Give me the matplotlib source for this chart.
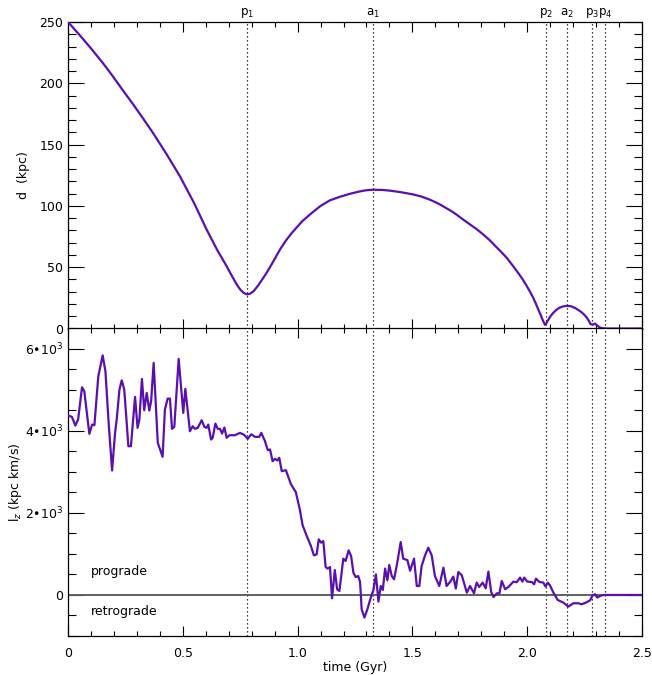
import numpy as np
import matplotlib
matplotlib.use("Agg")
import matplotlib.pyplot as plt

# distance to host (top panel)
t_d = [0.0, 0.05, 0.10, 0.15, 0.197, 0.24, 0.285, 0.33, 0.371, 0.43, 0.488,
       0.55, 0.604, 0.65, 0.691, 0.715, 0.735, 0.750, 0.765, 0.781, 0.795,
       0.810, 0.830, 0.865, 0.895, 0.923, 0.950, 0.975, 1.02, 1.06, 1.10,
       1.14, 1.185, 1.23, 1.27, 1.30, 1.33, 1.37, 1.40, 1.446, 1.50, 1.54,
       1.577, 1.61, 1.64, 1.67, 1.693, 1.72, 1.75, 1.78, 1.809, 1.835, 1.86,
       1.885, 1.911, 1.935, 1.96, 1.98, 1.998, 2.012, 2.025, 2.037, 2.048,
       2.058, 2.066, 2.073, 2.078, 2.084, 2.092, 2.102, 2.114, 2.128, 2.14,
       2.155, 2.172, 2.19, 2.21, 2.23, 2.245, 2.258, 2.268, 2.276, 2.285,
       2.295, 2.305, 2.315, 2.325, 2.35, 2.5]
d_kpc = [250, 239.5, 228.5, 217, 205.3, 194, 182.5, 170.5, 159.3, 142, 124,
         102, 80.6, 64, 50.8, 42.5, 35.9, 31.8, 29.0, 27.8, 28.6,
         30.8, 35.6, 45.4, 55, 64.4, 72, 78, 87.5, 94, 100,
         104.5, 107.5, 110, 111.8, 112.8, 113.2, 113, 112.5, 111.3, 109.5, 107.6,
         105, 102.2, 99, 95.7, 92.8, 89, 85, 81, 76.6, 72.3, 67.5,
         62.8, 57.6, 51.8, 45.5, 40.2, 34.6, 30.1, 25.5, 20.6, 15.6,
         11.3, 7.6, 4.6, 3, 4.6, 7.2, 10.2, 12.9, 15.4, 16.9,
         18.0, 18.5, 18.2, 16.6, 14.2, 11.9, 9.3, 6.4, 3.6, 3.2,
         4, 2.4, 1.0, 0.3, 0, 0]

# angular momentum l_z (bottom panel)
t_lz = [0.000, 0.017, 0.032, 0.044, 0.061, 0.071, 0.093, 0.105, 0.115, 0.132,
        0.151, 0.163, 0.177, 0.192, 0.205, 0.212, 0.224, 0.234, 0.245, 0.263,
        0.274, 0.292, 0.303, 0.311, 0.322, 0.332, 0.343, 0.354, 0.362, 0.373,
        0.391, 0.412, 0.422, 0.434, 0.444, 0.453, 0.463, 0.482, 0.502, 0.511,
        0.531, 0.543, 0.553, 0.565, 0.582, 0.594, 0.604, 0.611, 0.623, 0.630,
        0.642, 0.652, 0.662, 0.671, 0.681, 0.691, 0.703, 0.727, 0.749, 0.767,
        0.783, 0.798, 0.814, 0.833, 0.842, 0.858, 0.870, 0.880, 0.891, 0.902,
        0.912, 0.920, 0.931, 0.949, 0.971, 0.992, 1.008, 1.022, 1.040, 1.058,
        1.071, 1.083, 1.092, 1.102, 1.112, 1.122, 1.131, 1.141, 1.150, 1.162,
        1.172, 1.182, 1.199, 1.209, 1.222, 1.233, 1.243, 1.253, 1.264, 1.272,
        1.279, 1.291, 1.304, 1.315, 1.330, 1.341, 1.352, 1.362, 1.371, 1.381,
        1.391, 1.399, 1.410, 1.420, 1.434, 1.449, 1.460, 1.478, 1.490, 1.507,
        1.519, 1.530, 1.540, 1.555, 1.569, 1.584, 1.598, 1.617, 1.635, 1.649,
        1.664, 1.678, 1.689, 1.700, 1.715, 1.737, 1.751, 1.768, 1.780, 1.791,
        1.806, 1.819, 1.831, 1.843, 1.853, 1.868, 1.879, 1.889, 1.904, 1.918,
        1.940, 1.954, 1.969, 1.979, 1.987, 2.000, 2.020, 2.030, 2.038, 2.053,
        2.070, 2.080, 2.089, 2.099, 2.114, 2.133, 2.157, 2.179, 2.201, 2.223,
        2.237, 2.256, 2.274, 2.285, 2.295, 2.305, 2.317, 2.332, 2.500]
lz = [4380, 4343, 4132, 4278, 5065, 4967, 3930, 4157, 4140, 5333,
      5844, 5455, 4198, 3036, 3954, 4278, 5009, 5235, 5009, 3628,
      3628, 4831, 4076, 4278, 5269, 4505, 4928, 4497, 4724, 5659,
      3711, 3370, 4522, 4790, 4790, 4052, 4101, 5757, 4441, 5026,
      3994, 4115, 4052, 4076, 4261, 4101, 4076, 4157, 3791, 3833,
      4181, 4052, 4052, 3937, 4084, 3833, 3896, 3896, 3954, 3906,
      3808, 3920, 3857, 3857, 3954, 3750, 3531, 3548, 3263, 3321,
      3280, 3346, 3020, 3044, 2700, 2510, 2128, 1697, 1437, 1193,
      967, 991, 1356, 1276, 1315, 682, 643, 682, -80, 609,
      139, 97, 886, 828, 1088, 950, 545, 438, 463, 317,
      -348, -550, -348, -129, 122, 504, -161, 219, 122, 643,
      358, 731, 463, 382, 789, 1291, 886, 850, 590, 886,
      219, 219, 706, 967, 1154, 967, 463, 219, 667, 219,
      317, 448, 156, 560, 480, 58, 219, 41, 302, 195,
      302, 163, 570, 73, -49, 41, 41, 341, 139, 195,
      326, 310, 424, 326, 424, 326, 317, 261, 399, 317,
      302, 205, 302, 236, 58, -122, -185, -282, -202, -202,
      -226, -185, -129, -7, 17, -63, -24, 0, 0]

# pericentres / apocentres
event_t = [0.780, 1.330, 2.080, 2.172, 2.281, 2.339]
event_labels = [r'p$_1$', r'a$_1$', r'p$_2$', r'a$_2$', r'p$_3$', r'p$_4$']

line_col = '#5a0fb0'
plt.rcParams['font.family'] = 'DejaVu Sans'
plt.rcParams['font.size'] = 9

fig = plt.figure(figsize=(6.52, 6.75), dpi=100)
ax1 = fig.add_axes([0.1043, 0.5133, 0.8804, 0.4541])
ax2 = fig.add_axes([0.1043, 0.0578, 0.8804, 0.4556])

for ax in (ax1, ax2):
    for tx in event_t:
        ax.axvline(tx, color='black', lw=0.9, ls=(0, (1, 2.2)), zorder=1)
    ax.set_xlim(0, 2.5)
    ax.set_xticks(np.arange(0, 2.51, 0.5))
    ax.set_xticks(np.arange(0, 2.51, 0.1), minor=True)
    ax.tick_params(axis='x', which='major', direction='in', length=7, top=True, width=0.8)
    ax.tick_params(axis='x', which='minor', direction='in', length=3.5, top=True, width=0.8)
    ax.tick_params(axis='y', which='major', direction='in', length=11.5, right=True, width=0.8)
    ax.tick_params(axis='y', which='minor', direction='in', length=5.5, right=True, width=0.8)
    for s in ax.spines.values():
        s.set_linewidth(0.9)

# top panel
ax1.plot(t_d, d_kpc, color=line_col, lw=1.6, zorder=3)
ax1.set_ylim(0, 250)
ax1.set_yticks(np.arange(0, 251, 50))
ax1.set_yticks(np.arange(0, 251, 10), minor=True)
ax1.tick_params(axis='x', labelbottom=False)
ax1.set_ylabel('d  (kpc)')
ax1.yaxis.set_label_coords(-0.066, 0.5)
for tx, lab in zip(event_t, event_labels):
    ax1.text(tx, 252, lab, ha='center', va='bottom', fontsize=8.5)

# bottom panel
ax2.axhline(0, color='#606060', lw=1.4, zorder=2)
ax2.plot(t_lz, lz, color=line_col, lw=1.6, zorder=3)
ax2.set_ylim(-1000, 6500)
ax2.set_yticks([0, 2000, 4000, 6000])
ax2.set_yticklabels(['0', '2•10$^3$', '4•10$^3$', '6•10$^3$'])
ax2.set_yticks(np.arange(-1000, 6501, 500), minor=True)
ax2.set_xticklabels(['0', '0.5', '1.0', '1.5', '2.0', '2.5'])
ax2.tick_params(axis='x', pad=8)
ax2.set_xlabel('time (Gyr)', labelpad=1)
ax2.set_ylabel(r'l$_z$ (kpc km/s)')
ax2.yaxis.set_label_coords(-0.077, 0.5)
ax2.text(0.10, 575, 'prograde', ha='left', va='center')
ax2.text(0.10, -414, 'retrograde', ha='left', va='center')

fig.savefig('out.png', dpi=100)
